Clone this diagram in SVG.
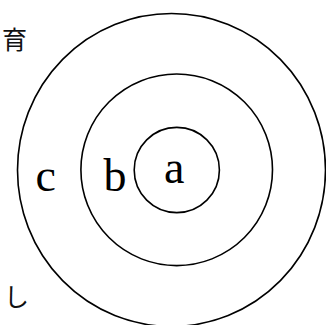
<svg xmlns="http://www.w3.org/2000/svg" width="326" height="325" viewBox="0 0 326 325">
<style>
.ring{fill:none;stroke:#000;stroke-width:1.6}
.lbl{font-family:"Liberation Serif","DejaVu Serif",serif;font-size:46px;fill:#000}
.cjk{font-family:"Noto Sans CJK JP","Noto Sans CJK SC",sans-serif;font-size:25px;fill:#111}
</style>
<rect width="326" height="325" fill="#fff"/>
<g id="outer"><ellipse class="ring" cx="171.5" cy="170" rx="154" ry="156.5"/></g>
<g id="middle"><circle class="ring" cx="176.7" cy="169.8" r="95.8"/></g>
<g id="inner"><circle class="ring" cx="176.8" cy="170" r="42.6"/></g>
<g id="labels">
<text class="lbl" x="35.5" y="191">c</text>
<text class="lbl" x="103.5" y="191">b</text>
<text class="lbl" x="164" y="183">a</text>
</g>
<g id="side">
<text class="cjk" x="2" y="49">育</text>
<text class="cjk" x="4" y="306">し</text>
</g>
</svg>
